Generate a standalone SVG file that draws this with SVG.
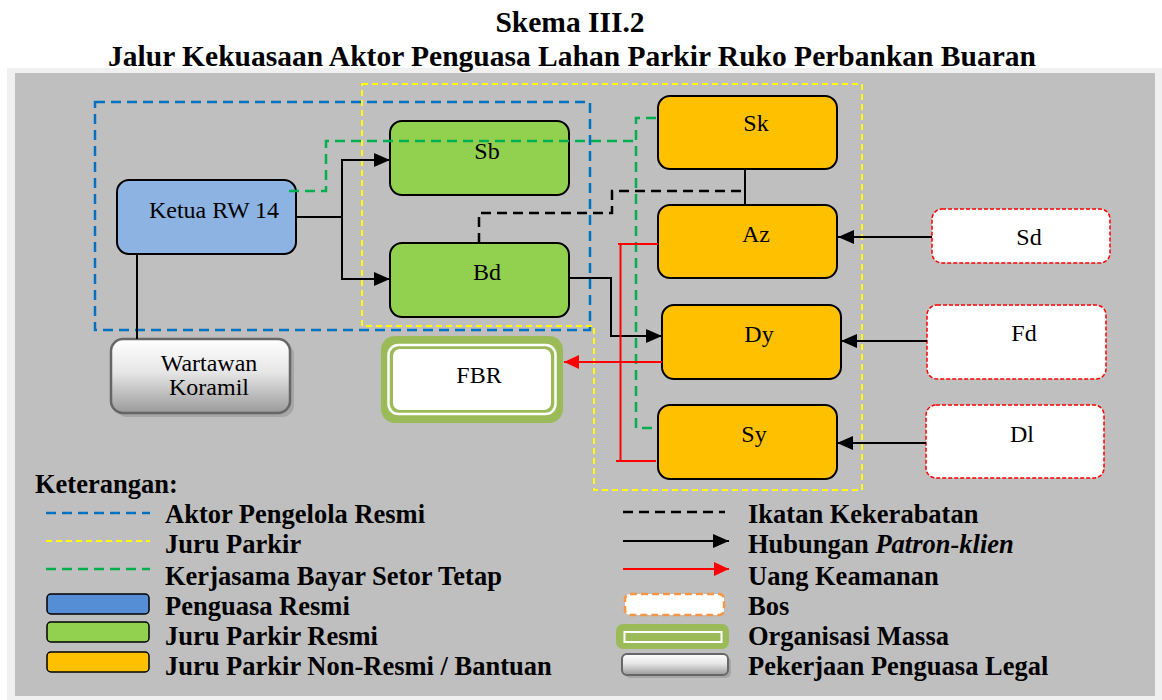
<svg xmlns="http://www.w3.org/2000/svg" width="1162" height="700" viewBox="0 0 1162 700">
<defs>
<marker id="ab" markerUnits="userSpaceOnUse" markerWidth="16" markerHeight="14" refX="16" refY="7" orient="auto"><path d="M0,0 L16,7 L0,14 Z" fill="#000"/></marker>
<marker id="ar" markerUnits="userSpaceOnUse" markerWidth="15" markerHeight="14" refX="15" refY="7" orient="auto"><path d="M0,0 L15,7 L0,14 Z" fill="#ff0000"/></marker>
<linearGradient id="gw" x1="0" y1="0" x2="0" y2="1"><stop offset="0" stop-color="#ffffff"/><stop offset="0.45" stop-color="#e6e6e6"/><stop offset="1" stop-color="#9a9a9a"/></linearGradient>
<style>
.t{font-family:"Liberation Serif","Times New Roman",serif;fill:#000}
.n{font-size:24px;text-anchor:middle}
.lg{font-size:26.5px;font-weight:bold}
.box{stroke:#000;stroke-width:2}
.blue{fill:#8db3e2}
.green{fill:#92d050}
.orange{fill:#ffc000}
.bos{fill:#fff;stroke:#ff0000;stroke-width:1.5;stroke-dasharray:4 2}
.c{fill:none;stroke:#000;stroke-width:2}
.dB{fill:none;stroke:#0070c0;stroke-width:2.5;stroke-dasharray:10 6}
.dY{fill:none;stroke:#ffff00;stroke-width:2;stroke-dasharray:6 4}
.dG{fill:none;stroke:#00b050;stroke-width:2.5;stroke-dasharray:10 6}
.dK{fill:none;stroke:#000;stroke-width:2.5;stroke-dasharray:10 6}
.r{fill:none;stroke:#ff0000;stroke-width:2}
</style>
</defs>
<rect x="0" y="0" width="1162" height="700" fill="#fff"/>
<rect x="7" y="68" width="1155" height="632" fill="#f0f0f0"/>
<rect x="15" y="73" width="1140" height="623" fill="#bfbfbf"/>
<text class="t" x="570" y="32" font-size="29.5" font-weight="bold" text-anchor="middle">Skema III.2</text>
<text class="t" x="572" y="66" font-size="29.5" font-weight="bold" text-anchor="middle">Jalur Kekuasaan Aktor Penguasa Lahan Parkir Ruko Perbankan Buaran</text>

<g id="regions">
<rect class="dB" x="95" y="102" width="495" height="228"/>
<path class="dY" d="M362,84 H862 V490 H594 V326 H362 Z"/>
</g>

<g id="ketua"><rect class="box blue" x="117" y="180" width="179" height="74" rx="12"/><text class="t n" x="214" y="218">Ketua RW 14</text></g>
<g id="sb"><rect class="box green" x="390" y="121" width="179" height="74" rx="12"/><text class="t n" x="487" y="159">Sb</text></g>
<g id="bd"><rect class="box green" x="390" y="243" width="179" height="74" rx="12"/><text class="t n" x="487" y="280">Bd</text></g>
<g id="sk"><rect class="box orange" x="658" y="96" width="179" height="73" rx="12"/><text class="t n" x="756" y="131">Sk</text></g>
<g id="az"><rect class="box orange" x="658" y="205" width="179" height="73" rx="12"/><text class="t n" x="756" y="242">Az</text></g>
<g id="dy"><rect class="box orange" x="662" y="305" width="179" height="74" rx="12"/><text class="t n" x="759" y="342">Dy</text></g>
<g id="sy"><rect class="box orange" x="658" y="405" width="179" height="74" rx="12"/><text class="t n" x="754" y="442">Sy</text></g>
<g id="sd"><rect class="bos" x="932" y="209" width="178" height="54" rx="10"/><text class="t n" x="1029" y="245" font-size="25">Sd</text></g>
<g id="fd"><rect class="bos" x="927" y="305" width="179" height="74" rx="10"/><text class="t n" x="1024" y="341">Fd</text></g>
<g id="dl"><rect class="bos" x="926" y="405" width="178" height="73" rx="10"/><text class="t n" x="1022" y="442">Dl</text></g>
<g id="fbr"><rect x="381" y="336" width="182" height="87" rx="14" fill="#9bbb59"/><rect x="388.5" y="345" width="167" height="69" rx="10" fill="none" stroke="#fff" stroke-width="2.5"/><rect x="393" y="349" width="158" height="61" rx="7" fill="#fff"/><text class="t n" x="479" y="383">FBR</text></g>
<g id="wartawan"><rect x="115" y="343" width="179" height="74" rx="12" fill="#a6a6a6"/><rect x="111" y="339" width="179" height="74" rx="12" fill="url(#gw)" stroke="#666" stroke-width="2.5"/><text class="t n" x="209" y="371" font-size="20.5">Wartawan</text><text class="t n" x="209" y="395" font-size="20.5">Koramil</text></g>

<g id="connectors">
<path class="c" d="M296,217 H342 V160 H390" marker-end="url(#ab)"/>
<path class="c" d="M342,217 V279 H390" marker-end="url(#ab)"/>
<path class="c" d="M137,254 V339"/>
<path class="c" d="M569,278 H611 V336 H662" marker-end="url(#ab)"/>
<path class="c" d="M932,237 H838" marker-end="url(#ab)"/>
<path class="c" d="M927,341 H841" marker-end="url(#ab)"/>
<path class="c" d="M926,443 H837" marker-end="url(#ab)"/>
<path class="c" d="M745,169 V205"/>
<path class="dK" d="M479,243 V213 H612 V191 H745"/>
<path class="dG" d="M289,191 H326 V141 H636"/>
<path class="dG" d="M656,118 H636 V428 H658"/>
<path class="r" d="M658,244 H618"/>
<path class="r" d="M620.5,244 V461"/>
<path class="r" d="M616,461 H656"/>
<path class="r" d="M662,362 H564" marker-end="url(#ar)"/>
</g>

<g id="legend">
<text class="t lg" x="35" y="493">Keterangan:</text>
<line class="dB" x1="46" y1="513" x2="150" y2="513" stroke-width="2"/>
<text class="t lg" x="165" y="523">Aktor Pengelola Resmi</text>
<line class="dY" x1="46" y1="541" x2="150" y2="541"/>
<text class="t lg" x="165" y="553">Juru Parkir</text>
<line class="dG" x1="46" y1="569" x2="150" y2="569" stroke-width="2"/>
<text class="t lg" x="165" y="585">Kerjasama Bayar Setor Tetap</text>
<rect x="47" y="594" width="102" height="20" rx="4" fill="#558ed5" stroke="#000" stroke-width="1.5"/>
<text class="t lg" x="165" y="615">Penguasa Resmi</text>
<rect x="47" y="622" width="102" height="20" rx="4" fill="#92d050" stroke="#000" stroke-width="1.5"/>
<text class="t lg" x="165" y="645">Juru Parkir Resmi</text>
<rect x="47" y="652" width="102" height="20" rx="4" fill="#ffc000" stroke="#000" stroke-width="1.5"/>
<text class="t lg" x="165" y="675">Juru Parkir Non-Resmi / Bantuan</text>

<line class="dK" x1="623" y1="512" x2="725" y2="512" stroke-width="2"/>
<text class="t lg" x="748" y="523">Ikatan Kekerabatan</text>
<line class="c" x1="623" y1="541" x2="729" y2="541" marker-end="url(#ab)"/>
<text class="t lg" x="748" y="553">Hubungan <tspan font-style="italic">Patron-klien</tspan></text>
<line class="r" x1="623" y1="569" x2="729" y2="569" marker-end="url(#ar)"/>
<text class="t lg" x="748" y="585">Uang Keamanan</text>
<rect x="625" y="594" width="99" height="21" rx="5" fill="#fff" stroke="#f79646" stroke-width="2.5" stroke-dasharray="7 4"/>
<text class="t lg" x="748" y="615">Bos</text>
<rect x="616" y="624" width="113" height="25" rx="7" fill="#9bbb59"/>
<rect x="624.5" y="632" width="97" height="10" fill="none" stroke="#fff" stroke-width="2"/>
<text class="t lg" x="748" y="645">Organisasi Massa</text>
<rect x="625" y="657" width="106" height="21" rx="5" fill="#a6a6a6"/>
<rect x="622" y="654" width="106" height="21" rx="5" fill="url(#gw)" stroke="#666" stroke-width="2"/>
<text class="t lg" x="748" y="675">Pekerjaan Penguasa Legal</text>
</g>
</svg>
